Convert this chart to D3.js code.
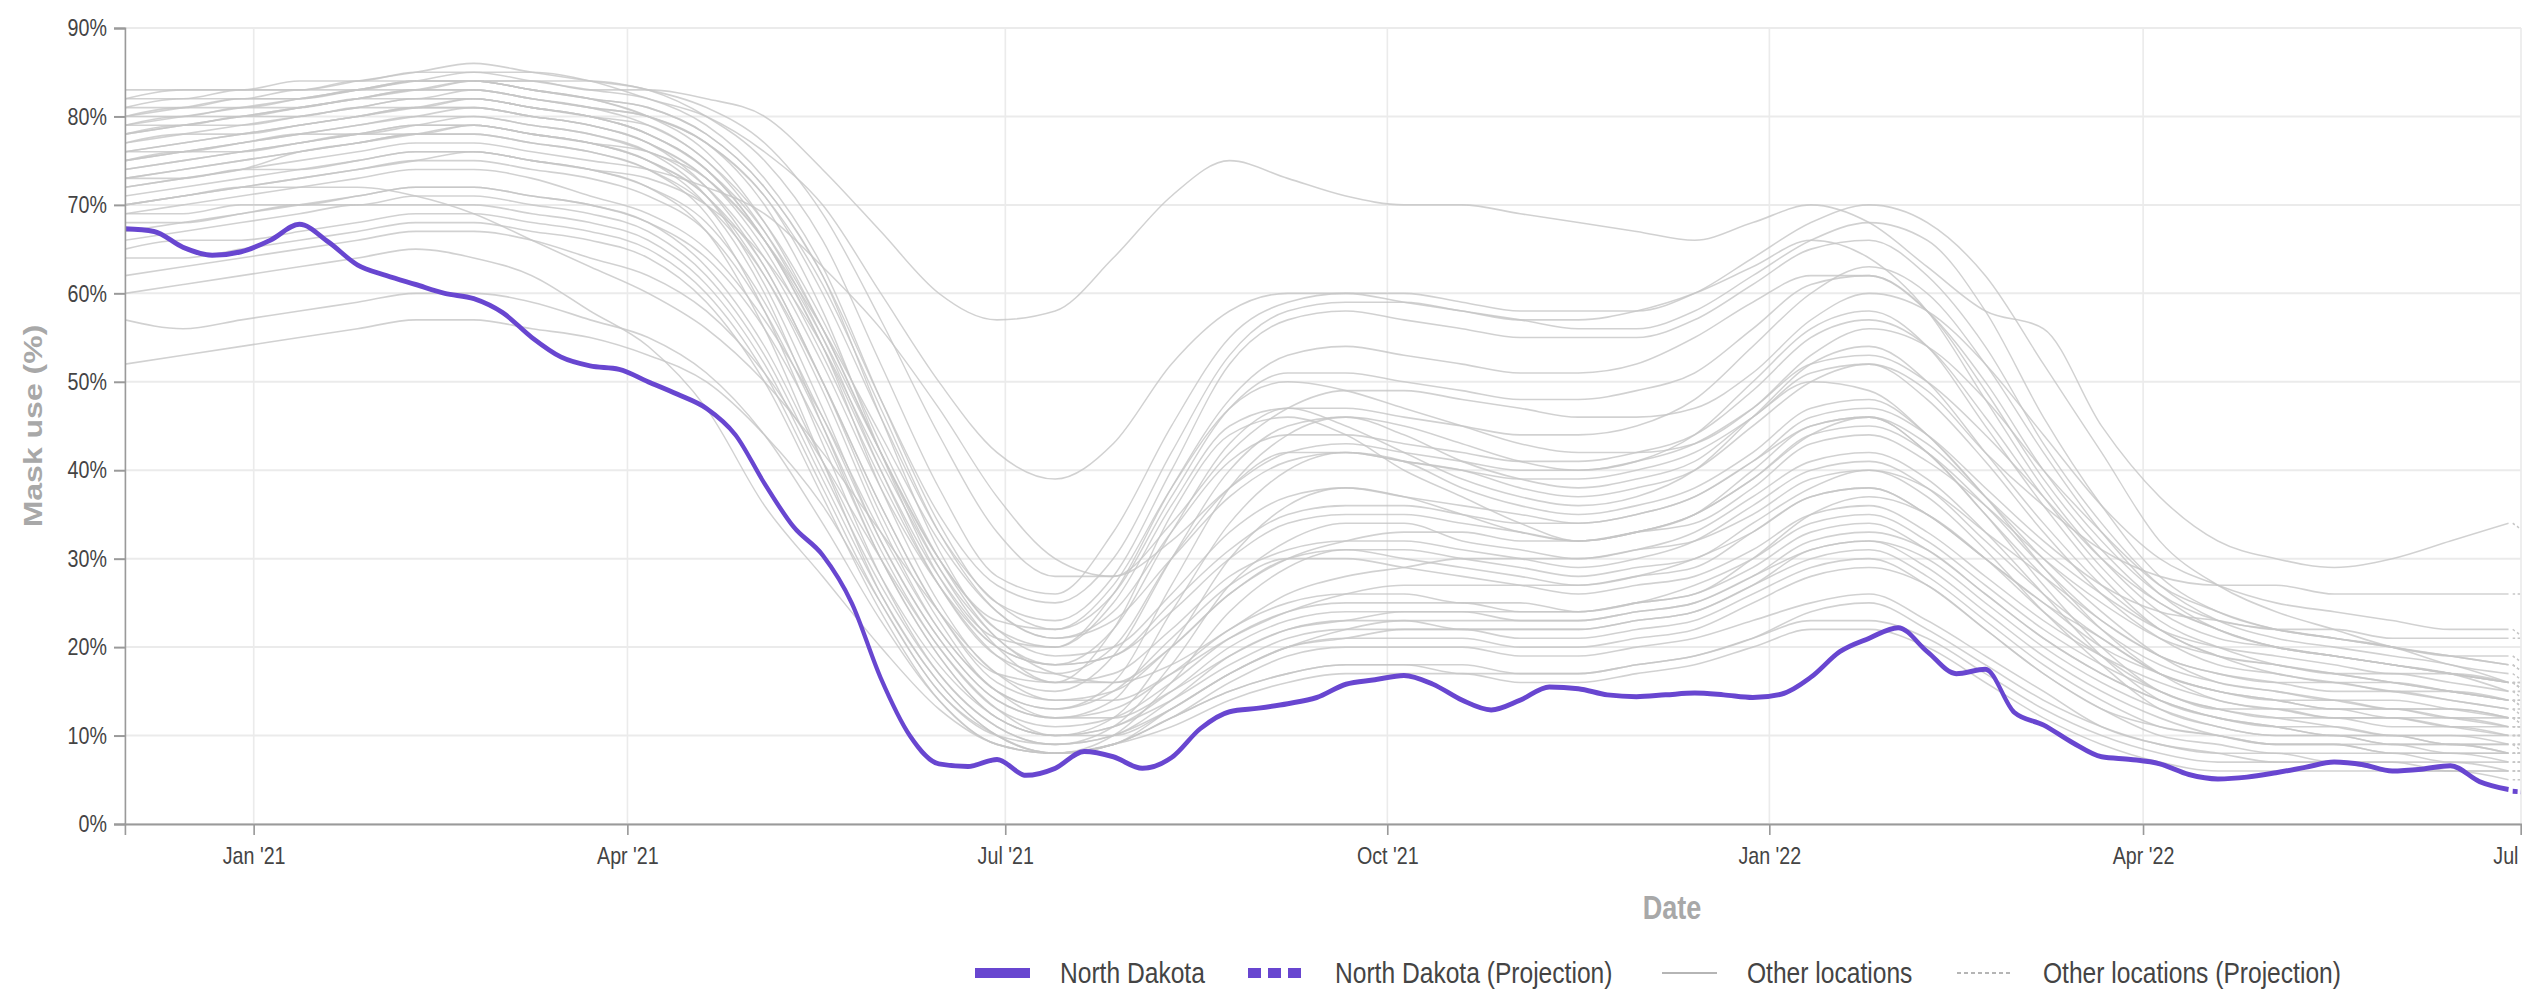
<!DOCTYPE html>
<html>
<head>
<meta charset="utf-8">
<script src="https://cdn.jsdelivr.net/npm/d3@7"></script>
<style>
  html, body { margin: 0; padding: 0; background: #fff; }
  svg { display: block; }
  text { font-family: "Liberation Sans", Arial, sans-serif; }
</style>
</head>
<body>
<svg id="chart"></svg>
<script>
// ---- data ----
// North Dakota, weekly values from 2020-12-01 (mask use, %)
const ndStart = '2020-12-01';
const ndValues = [
  67.3, 67.0, 65.2, 64.3, 64.7, 66.0, 67.8,
  65.8, 63.2, 62.0, 61.0, 60.0, 59.4, 57.8,
  55.0, 52.8, 51.8, 51.4, 50.0, 48.6, 47.0,
  44.0, 38.5, 33.6, 30.4, 25.0, 16.5, 10.0,
  6.8, 6.5, 7.3, 5.5, 6.3, 8.2, 7.6,
  6.3, 7.5, 10.8, 12.7, 13.1, 13.6, 14.3,
  15.8, 16.3, 16.8, 15.8, 14.0, 12.9, 14.0,
  15.5, 15.3, 14.6, 14.4, 14.6, 14.8, 14.6,
  14.3, 14.7, 16.6, 19.5, 21.0, 22.2, 19.5,
  17.0, 17.5, 12.6, 11.2, 9.2, 7.6, 7.3,
  6.8, 5.6, 5.1, 5.3, 5.8, 6.4, 7.0,
  6.7, 6.0, 6.2, 6.6, 4.8, 3.9
];
const ndProjection = [3.7, 3.6];
const projectionDates = ['2022-06-29', '2022-07-02'];

// Other locations, every 14 days from 2020-12-01; last two values are the projection
const otherStart = '2020-12-01';
const otherLocations = [
  [78,79,80,81,82,83,84, 84,83,83,82,80,74,67, 60,57,58,64,71,75,73, 71,70,70,69,68,67,66, 68,70,68,63,58,56,45, 37,32,30,29,30,32,34, 34,33],
  [80,81,82,82,83,84,85, 85,84,82,80,76,70,60, 50,42,39,43,52,58,60, 60,60,59,58,58,58,60, 64,68,70,68,62,52,42, 32,27,24,22,20,19,18, 18,17],
  [82,82,83,83,84,85,86, 85,84,83,80,75,66,52, 38,28,26,33,45,55,59, 60,59,58,57,56,56,58, 62,66,68,66,58,46,36, 28,24,22,21,20,18,17, 17,16],
  [83,83,83,84,84,85,85, 84,83,82,79,73,63,48, 34,25,23,28,40,52,57, 58,57,56,55,55,55,57, 61,65,66,62,54,43,34, 27,23,21,20,19,18,16, 16,15],
  [80,81,81,82,83,84,84, 83,82,81,78,72,62,46, 31,22,20,26,38,48,53, 54,53,52,51,51,52,55, 59,62,62,58,50,40,32, 26,23,22,21,20,19,19, 19,18],
  [78,79,80,81,82,83,83, 82,81,80,77,70,58,42, 28,20,18,22,33,43,47, 47,46,45,44,44,45,48, 54,60,63,60,52,42,33, 26,22,20,19,18,17,15, 15,14],
  [77,78,79,80,81,82,82, 81,80,78,74,66,54,38, 25,17,15,19,30,40,45, 46,45,43,41,40,41,44, 50,56,58,54,45,36,28, 22,19,17,16,15,14,13, 13,12],
  [76,77,78,79,80,81,81, 80,79,77,72,63,50,35, 23,15,13,16,27,38,44, 46,44,41,39,38,39,41, 46,50,49,44,37,30,24, 19,16,15,14,13,13,12, 12,11],
  [75,76,77,78,79,80,80, 79,78,76,71,61,47,32, 21,14,12,14,24,34,40, 42,41,38,36,35,36,38, 42,47,48,44,37,29,22, 17,14,13,12,12,11,10, 10,10],
  [74,75,76,77,78,79,79, 78,77,75,70,60,45,30, 19,12,10,12,20,30,36, 38,37,35,33,32,33,35, 39,44,46,42,35,27,20, 15,13,12,11,10,10,9, 9,9],
  [79,80,80,81,82,83,83, 82,81,79,75,67,55,40, 27,19,17,20,30,38,42, 42,41,40,38,37,38,40, 45,50,52,48,41,33,26, 21,18,17,16,16,15,14, 14,13],
  [72,73,74,76,77,78,78, 77,76,74,69,58,43,28, 17,11,9,11,18,27,32, 34,34,32,31,30,31,33, 37,41,42,39,33,26,19, 14,12,11,10,10,9,9, 9,8],
  [70,71,72,73,74,75,76, 75,74,72,67,56,41,26, 16,10,8,10,16,24,29, 31,31,30,29,28,29,30, 34,38,40,37,31,24,18, 13,11,10,10,9,9,8, 8,8],
  [76,76,77,78,78,79,80, 79,78,76,73,66,55,42, 30,22,19,20,26,33,37, 38,37,36,35,34,35,37, 41,45,46,43,37,31,26, 22,20,19,18,17,17,16, 16,16],
  [73,74,75,76,77,78,78, 77,76,74,70,62,50,36, 24,16,14,15,20,26,30, 31,30,29,28,27,28,29, 33,37,38,35,30,25,20, 17,15,14,14,13,13,12, 12,12],
  [71,72,73,74,75,76,76, 75,74,72,68,59,46,32, 21,14,12,13,17,22,25, 26,26,25,25,24,25,27, 30,34,35,32,27,22,18, 15,13,13,12,12,11,11, 11,11],
  [69,69,70,70,71,72,72, 71,70,68,64,56,44,30, 19,12,10,11,15,20,23, 24,24,24,23,23,24,25, 28,31,32,30,25,20,16, 13,11,10,10,9,9,8, 8,8],
  [68,68,69,70,70,71,71, 70,69,67,62,53,40,27, 17,11,9,10,14,19,22, 23,23,22,22,22,23,24, 27,30,31,28,23,18,14, 11,10,9,9,8,8,7, 7,7],
  [66,67,68,69,70,70,70, 69,68,66,61,52,39,26, 16,10,8,9,13,17,20, 21,21,21,20,20,21,22, 25,28,29,27,22,17,13, 10,9,8,8,8,7,7, 7,7],
  [64,64,65,66,67,68,68, 67,66,64,59,50,37,24, 14,9,8,9,12,16,19, 20,20,20,19,19,20,21, 23,25,26,23,19,15,11, 9,8,8,7,7,7,6, 6,6],
  [57,56,57,58,59,60,60, 59,57,55,51,44,34,23, 14,9,8,9,12,15,17, 18,18,17,17,17,18,19, 21,23,23,21,17,13,10, 8,7,7,7,6,6,6, 6,6],
  [52,53,54,55,56,57,57, 56,55,53,50,44,36,25, 15,10,8,9,11,14,16, 17,17,17,16,16,17,18, 20,22,22,20,16,12,9, 7,6,6,6,6,6,5, 5,5],
  [60,61,62,63,64,65,64, 62,58,54,47,36,28,20, 13,9,8,9,12,15,17, 18,18,18,17,17,18,19, 21,24,25,22,18,14,11, 9,8,7,7,7,6,6, 6,6],
  [81,81,82,82,83,83,84, 83,82,80,77,71,61,47, 33,24,21,24,33,41,44, 44,43,42,41,41,42,44, 49,55,57,54,46,37,29, 23,20,18,17,16,15,14, 14,14],
  [77,78,78,79,80,81,82, 81,80,79,75,68,57,43, 30,21,18,19,24,30,34, 35,35,34,33,32,33,35, 39,44,45,42,36,29,23, 19,17,16,15,15,14,13, 13,13],
  [75,76,77,78,79,80,81, 80,79,77,73,65,53,39, 27,19,16,17,22,28,31, 32,32,31,30,29,30,32, 36,40,41,38,32,26,21, 17,15,14,13,13,12,11, 11,11],
  [78,79,79,80,81,82,82, 81,80,78,74,66,54,40, 28,21,20,25,36,45,47, 45,42,39,37,36,37,40, 46,52,54,50,42,34,27, 22,19,18,17,16,15,14, 14,13],
  [79,80,81,82,83,84,84, 83,82,81,78,72,62,48, 35,27,25,30,42,53,58, 59,59,58,57,57,58,60, 63,66,64,58,48,38,30, 24,21,20,19,18,17,16, 16,15],
  [80,80,81,81,82,82,83, 82,81,80,77,71,60,46, 33,25,22,26,37,47,51, 51,50,49,48,48,49,51, 56,61,62,58,49,39,31, 25,22,20,19,18,17,16, 16,16],
  [74,75,76,77,78,79,79, 78,77,75,71,63,50,36, 24,17,16,22,35,44,46, 44,40,37,34,32,33,35, 40,45,46,42,35,28,22, 18,16,15,14,14,13,12, 12,12],
  [76,77,78,79,80,81,81, 80,79,77,73,66,56,44, 32,24,21,23,30,37,41, 42,41,40,39,39,40,42, 46,51,52,49,42,36,31, 28,27,27,26,26,26,26, 26,26],
  [73,74,75,76,77,78,79, 78,77,76,72,64,52,38, 27,20,18,19,25,31,35, 36,36,35,34,34,35,37, 41,46,47,44,38,32,27, 24,23,22,22,21,21,21, 21,21],
  [70,71,72,73,74,75,75, 74,73,71,67,58,45,31, 20,13,11,12,16,21,24, 25,25,25,24,24,25,26, 29,33,34,31,26,21,17, 14,12,11,11,10,10,10, 10,10],
  [67,68,69,70,71,72,72, 71,70,68,63,54,41,28, 18,12,10,11,14,18,21, 22,22,22,21,21,22,23, 26,29,30,27,22,17,13, 11,10,9,9,9,8,8, 8,8],
  [65,66,66,67,68,69,69, 68,67,65,60,51,38,25, 15,10,9,10,13,17,20, 21,22,22,22,22,23,24, 27,31,32,29,24,19,15, 12,10,9,9,8,8,8, 8,8],
  [69,70,71,72,73,74,74, 73,71,69,65,57,46,33, 22,15,13,15,21,27,30, 30,29,28,27,26,27,28, 31,35,36,33,28,23,19, 16,14,13,13,12,12,11, 11,11],
  [72,73,74,75,76,77,77, 76,75,74,72,69,63,56, 47,37,30,28,32,38,42, 43,42,41,40,40,41,43, 47,52,53,50,44,37,30, 25,22,20,19,18,17,16, 16,15],
  [70,71,72,72,72,71,69, 66,63,60,56,50,42,33, 24,17,14,14,17,21,24, 26,27,27,27,27,28,30, 33,37,38,35,30,25,21, 17,15,14,13,13,12,12, 12,11],
  [82,83,83,83,84,84,84, 84,84,83,81,77,69,57, 44,33,28,28,34,42,47, 49,49,48,47,46,46,47, 51,57,60,58,52,44,36, 30,27,25,24,23,22,22, 22,21],
  [75,76,76,77,78,78,79, 78,77,75,71,62,49,34, 22,15,12,12,15,19,22, 23,24,24,24,24,25,26, 30,35,37,35,30,24,19, 15,13,12,12,11,11,10, 10,10],
  [79,79,80,80,81,81,82, 81,80,78,74,67,56,42, 29,20,16,16,20,26,30, 32,33,33,32,32,33,34, 38,43,44,41,36,30,25, 21,19,18,17,17,16,15, 15,15],
  [62,63,64,65,66,67,67, 66,64,62,58,51,41,30, 20,13,10,10,13,17,20, 22,23,23,23,23,24,25, 28,32,33,31,26,21,17, 14,12,11,10,10,9,9, 9,9],
  [81,82,82,83,83,84,84, 83,82,80,76,68,56,42, 30,23,22,27,38,47,50, 49,47,45,43,42,42,43, 47,53,56,54,48,40,33, 27,24,22,21,20,19,18, 18,17],
  [73,73,74,74,75,76,76, 75,74,73,70,64,54,41, 29,21,17,16,18,22,26, 28,29,30,30,30,31,32, 35,39,40,38,33,28,23, 19,17,16,16,15,15,14, 14,14]
];

const yTicks = [0, 10, 20, 30, 40, 50, 60, 70, 80, 90];
const legendItems = ['North Dakota', 'North Dakota (Projection)', 'Other locations', 'Other locations (Projection)'];

// ---- layout ----
const K = 0.82;            // the reference is squeezed horizontally
const W = 2522, H = 1001;
const px = v => v / K;     // picture px -> viewBox x units
const purple = '#6846d0';
const grey = '#c6c6c6';

const svg = d3.select('#chart')
    .attr('width', W)
    .attr('height', H)
    .attr('viewBox', `0 0 ${W / K} ${H}`)
    .attr('preserveAspectRatio', 'none');

const parse = d3.timeParse('%Y-%m-%d');

const x = d3.scaleTime()
    .domain([parse('2020-12-01'), parse('2022-07-01')])
    .range([px(125), px(2521)]);
const y = d3.scaleLinear()
    .domain([0, 90])
    .range([824, 28]);

const xTicks = x.ticks(d3.timeMonth.every(3));

// grid
svg.append('g')
    .selectAll('line')
    .data(yTicks)
    .join('line')
    .attr('x1', x.range()[0]).attr('x2', x.range()[1])
    .attr('y1', d => y(d)).attr('y2', d => y(d))
    .attr('stroke', '#ebebeb').attr('stroke-width', 2);
svg.append('g')
    .selectAll('line')
    .data(xTicks)
    .join('line')
    .attr('x1', d => x(d)).attr('x2', d => x(d))
    .attr('y1', y(0)).attr('y2', y(90))
    .attr('stroke', '#ebebeb').attr('stroke-width', 2);

// lines
svg.append('clipPath').attr('id', 'plot-clip')
    .append('rect')
    .attr('x', x.range()[0]).attr('y', 0)
    .attr('width', x.range()[1] - x.range()[0]).attr('height', y(0));

const line = d3.line()
    .x(d => x(d.date))
    .y(d => y(d.v))
    .curve(d3.curveMonotoneX);

const plot = svg.append('g').attr('clip-path', 'url(#plot-clip)');
const projDates = projectionDates.map(parse);
const nSolid = 42;

otherLocations.forEach(vals => {
    const solid = vals.slice(0, nSolid).map((v, i) => ({date: d3.timeDay.offset(parse(otherStart), 14 * i), v}));
    const proj = vals.slice(nSolid).map((v, i) => ({date: projDates[i], v}));
    plot.append('path').datum(solid)
        .attr('d', line)
        .attr('fill', 'none')
        .attr('stroke', grey).attr('stroke-width', 1.6).attr('stroke-opacity', 0.8);
    plot.append('path').datum(proj)
        .attr('d', line)
        .attr('fill', 'none')
        .attr('stroke', grey).attr('stroke-width', 1.6)
        .attr('stroke-dasharray', '3 3');
});

const ndSolid = ndValues.map((v, i) => ({date: d3.timeDay.offset(parse(ndStart), 7 * i), v}));
const ndProj = ndProjection.map((v, i) => ({date: projDates[i], v}));
plot.append('path').datum(ndSolid)
    .attr('d', line)
    .attr('fill', 'none')
    .attr('stroke', purple).attr('stroke-width', 5);
plot.append('path').datum(ndProj)
    .attr('d', line)
    .attr('fill', 'none')
    .attr('stroke', purple).attr('stroke-width', 5)
    .attr('stroke-dasharray', '6 4');

// axes
const xAxis = svg.append('g')
    .attr('transform', `translate(0,${y(0)})`)
    .call(d3.axisBottom(x)
        .tickValues(xTicks)
        .tickFormat(d3.timeFormat("%b '%y"))
        .tickSize(11)
        .tickPadding(12));
const yAxis = svg.append('g')
    .attr('transform', `translate(${x.range()[0]},0)`)
    .call(d3.axisLeft(y)
        .tickValues(yTicks)
        .tickFormat(d => d + '%')
        .tickSize(px(11))
        .tickPadding(px(7)));

[xAxis, yAxis].forEach(g => {
    g.select('.domain').attr('stroke', '#9a9a9a').attr('stroke-width', 2);
    g.selectAll('.tick line').attr('stroke', '#9a9a9a').attr('stroke-width', 2);
    g.selectAll('.tick text')
        .attr('fill', '#444')
        .style('font-size', '24px')
        .style('font-family', '"Liberation Sans", Arial, sans-serif');
});

// axis titles
svg.append('text')
    .attr('x', px(1672))
    .attr('y', 919)
    .attr('text-anchor', 'middle')
    .attr('fill', '#a8a8a8')
    .style('font-size', '33px')
    .style('font-weight', 'bold')
    .text('Date');

svg.append('text')
    .attr('transform', `translate(${px(33)},426) rotate(-90)`)
    .attr('dy', '0.35em')
    .attr('text-anchor', 'middle')
    .attr('fill', '#a8a8a8')
    .style('font-size', '32px')
    .style('font-weight', 'bold')
    .text('Mask use (%)');

// legend
const legendY = 973;
const swatches = [
    {x0: 975, x1: 1030, tx: 1060, color: purple, width: 10, dash: null},
    {x0: 1248, x1: 1303, tx: 1335, color: purple, width: 10, dash: `${px(13)} ${px(7)}`},
    {x0: 1662, x1: 1717, tx: 1747, color: '#b5b5b5', width: 2, dash: null},
    {x0: 1957, x1: 2013, tx: 2043, color: '#b5b5b5', width: 2, dash: `${px(4)} ${px(3)}`}
];
const legend = svg.append('g');
legendItems.forEach((label, i) => {
    const s = swatches[i];
    legend.append('line')
        .attr('x1', px(s.x0)).attr('x2', px(s.x1))
        .attr('y1', legendY).attr('y2', legendY)
        .attr('stroke', s.color).attr('stroke-width', s.width)
        .attr('stroke-dasharray', s.dash);
    legend.append('text')
        .attr('x', px(s.tx))
        .attr('y', legendY)
        .attr('dy', '0.35em')
        .attr('fill', '#444')
        .style('font-size', '30px')
        .text(label);
});
</script>
</body>
</html>
